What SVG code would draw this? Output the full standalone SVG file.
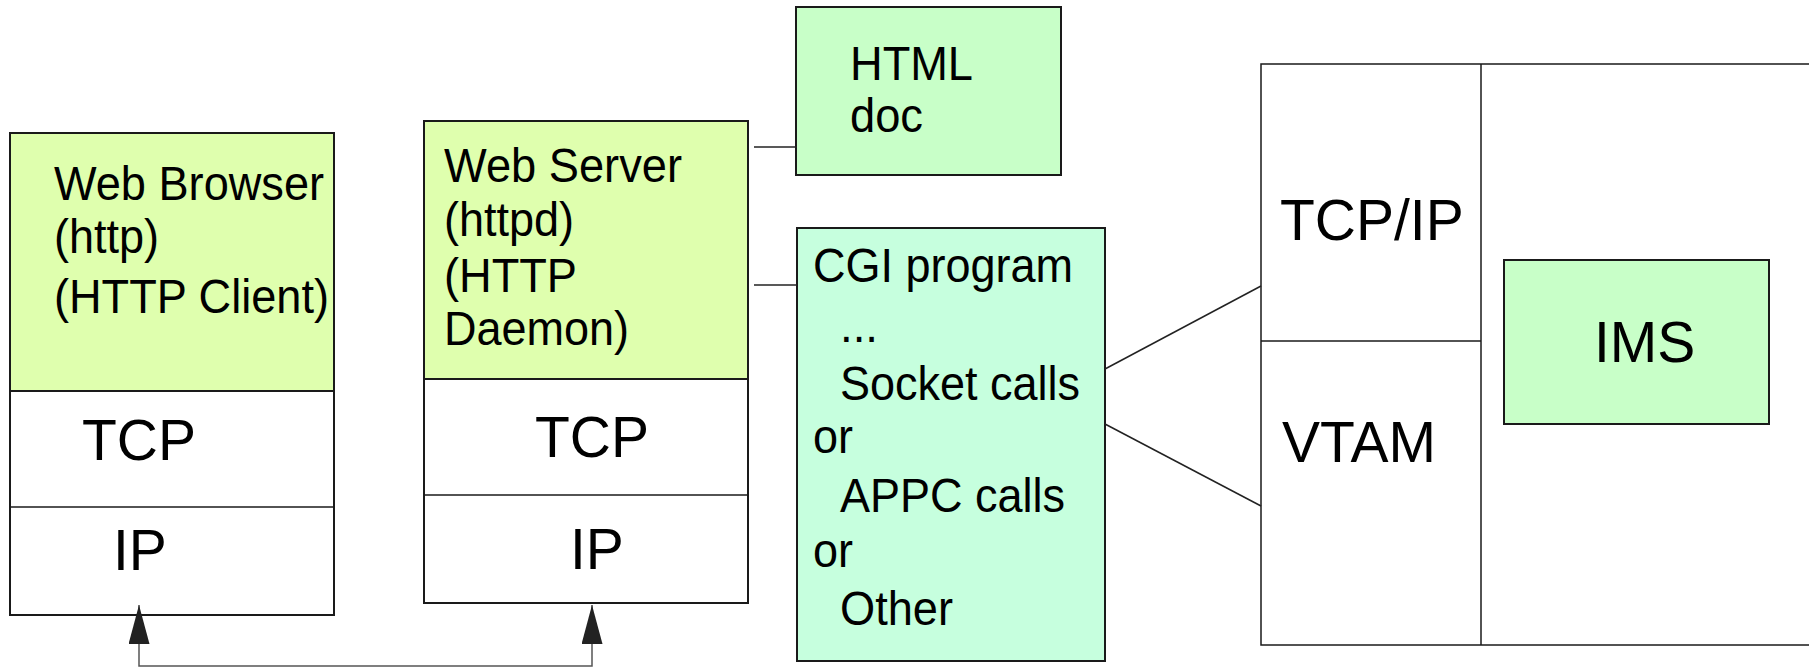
<svg xmlns="http://www.w3.org/2000/svg" width="1809" height="667" viewBox="0 0 1809 667">
<style>
  .box { stroke: #1a1a1a; stroke-width: 2; }
  .div { stroke: #1a1a1a; stroke-width: 1.5; fill: none; }
  .yel { fill: #DFFFAE; }
  .grn { fill: #C8FFC8; }
  .mint { fill: #C6FFDE; }
  .wht { fill: #FFFFFF; }
  text { font-family: "Liberation Sans", Arial, sans-serif; fill: #000; }
  .s { font-size: 48px; }
  .l { font-size: 57px; }
  .conn { stroke: #222; stroke-width: 1.5; fill: none; }
  .arr { stroke: #555; stroke-width: 1.5; fill: none; }
</style>
<defs>
  <marker id="ah" viewBox="0 0 39 21" refX="39" refY="10.5" markerWidth="39" markerHeight="21" markerUnits="userSpaceOnUse" orient="auto-start-reverse">
    <path d="M0,0 L39,10.5 L0,21 z" fill="#222"/>
  </marker>
</defs>
<rect width="1809" height="667" fill="#FFFFFF"/>

<g id="browser">
  <rect class="box wht" x="10" y="133" width="324" height="482"/>
  <rect class="box yel" x="10" y="133" width="324" height="258"/>
  <line class="div" x1="10" y1="507" x2="334" y2="507"/>
  <text class="s" x="54" y="200" textLength="270" lengthAdjust="spacingAndGlyphs">Web Browser</text>
  <text class="s" x="54" y="253" textLength="105" lengthAdjust="spacingAndGlyphs">(http)</text>
  <text class="s" x="54" y="313" textLength="275" lengthAdjust="spacingAndGlyphs">(HTTP Client)</text>
  <text class="l" x="82" y="460">TCP</text>
  <text class="l" x="113" y="570">IP</text>
</g>

<g id="server">
  <rect class="box wht" x="424" y="121" width="324" height="482"/>
  <rect class="box yel" x="424" y="121" width="324" height="258"/>
  <line class="div" x1="424" y1="495" x2="748" y2="495"/>
  <text class="s" x="444" y="182" textLength="238" lengthAdjust="spacingAndGlyphs">Web Server</text>
  <text class="s" x="444" y="236" textLength="130" lengthAdjust="spacingAndGlyphs">(httpd)</text>
  <text class="s" x="444" y="292" textLength="133" lengthAdjust="spacingAndGlyphs">(HTTP</text>
  <text class="s" x="444" y="345" textLength="185" lengthAdjust="spacingAndGlyphs">Daemon)</text>
  <text class="l" x="535" y="457">TCP</text>
  <text class="l" x="570" y="569">IP</text>
</g>

<g id="html">
  <rect class="box grn" x="796" y="7" width="265" height="168"/>
  <text class="s" x="850" y="80" textLength="123" lengthAdjust="spacingAndGlyphs">HTML</text>
  <text class="s" x="850" y="132" textLength="73" lengthAdjust="spacingAndGlyphs">doc</text>
</g>

<g id="cgi">
  <rect class="box mint" x="797" y="228" width="308" height="433"/>
  <text class="s" x="813" y="282" textLength="260" lengthAdjust="spacingAndGlyphs">CGI program</text>
  <text class="s" x="840" y="342" textLength="38" lengthAdjust="spacingAndGlyphs">...</text>
  <text class="s" x="840" y="400" textLength="240" lengthAdjust="spacingAndGlyphs">Socket calls</text>
  <text class="s" x="813" y="453" textLength="40" lengthAdjust="spacingAndGlyphs">or</text>
  <text class="s" x="840" y="512" textLength="225" lengthAdjust="spacingAndGlyphs">APPC calls</text>
  <text class="s" x="813" y="567" textLength="40" lengthAdjust="spacingAndGlyphs">or</text>
  <text class="s" x="840" y="625" textLength="113" lengthAdjust="spacingAndGlyphs">Other</text>
</g>

<g id="host">
  <rect class="div" x="1261" y="64" width="600" height="581"/>
  <line class="div" x1="1481" y1="64" x2="1481" y2="645"/>
  <line class="div" x1="1261" y1="341" x2="1481" y2="341"/>
  <text class="l" x="1280" y="240">TCP/IP</text>
  <text class="l" x="1282" y="462">VTAM</text>
</g>

<g id="ims">
  <rect class="box grn" x="1504" y="260" width="265" height="164"/>
  <text class="l" x="1594" y="362">IMS</text>
</g>

<g id="connectors">
  <line class="conn" x1="754" y1="147" x2="797" y2="147"/>
  <line class="conn" x1="754" y1="285" x2="797" y2="285"/>
  <line class="conn" x1="1105" y1="369" x2="1261" y2="286"/>
  <line class="conn" x1="1105" y1="424" x2="1261" y2="506"/>
  <path class="arr" d="M139,605 V666 H592 V605" marker-start="url(#ah)" marker-end="url(#ah)"/>
</g>
</svg>
